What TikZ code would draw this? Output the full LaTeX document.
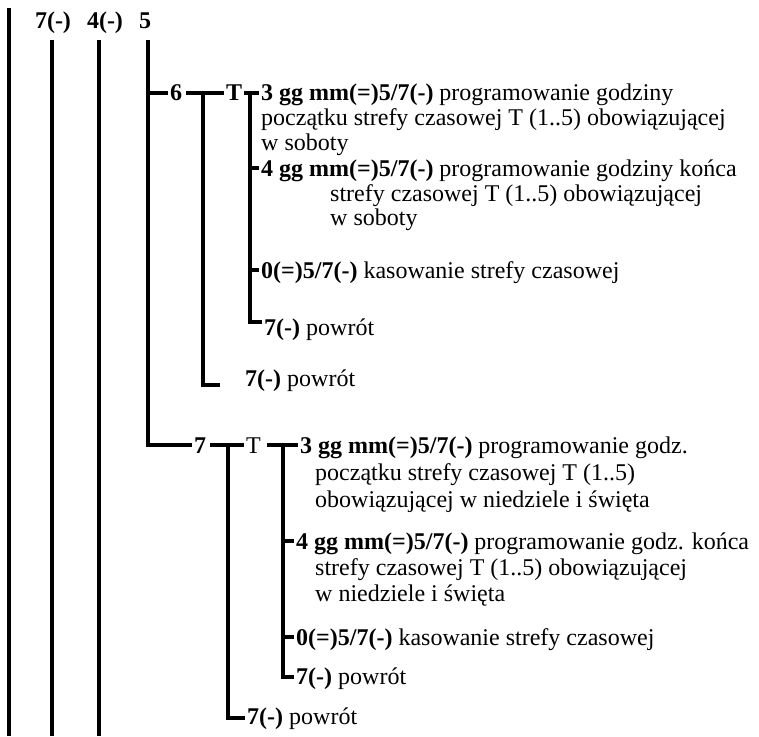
\documentclass[tikz,border=0pt]{standalone}
\usepackage{fontspec}
\setmainfont{Liberation Serif}

\begin{document}
\begin{tikzpicture}[x=1pt,y=-1pt,
    bar/.style={line width=4.6pt},
    lbl/.style={anchor=base west,inner xsep=2pt,inner ysep=0pt,font=\fontsize{24}{25}\selectfont},
    key/.style={lbl,font=\fontsize{24}{25}\selectfont\bfseries}]
    \useasboundingbox (0,0) rectangle (759,736);

    % main keys
    \node[key,anchor=base] (k7) at (53,28) {7(-)};
    \node[key,anchor=base] (k4) at (105,28) {4(-)};
    \node[key,anchor=base] (k5) at (145,28) {5};
    \draw[bar] (9,8) -- (9,736);
    \draw[bar] (52,40) -- (52,736);
    \draw[bar] (99,40) -- (99,736);

    % branch 6 (soboty)
    \node[key] (b6) at (168,100) {6};
    \node[key] (b6t) at (224,100) {T};
    \node[lbl] (b6a) at (259,100) {\textbf{3 gg mm(=)5/7(-)} programowanie godziny};
    \node[lbl] (b6a2) at (259,125) {początku strefy czasowej T (1..5) obowiązującej};
    \node[lbl] (b6a3) at (259,150) {w soboty};
    \node[lbl] (b6b) at (259,176) {\textbf{4 gg mm(=)5/7(-)} programowanie godziny końca};
    \node[lbl] (b6b2) at (328,201) {strefy czasowej T (1..5) obowiązującej};
    \node[lbl] (b6b3) at (328,225) {w soboty};
    \node[lbl] (b6c) at (259,278) {\textbf{0(=)5/7(-)} kasowanie strefy czasowej};
    \node[lbl] (b6d) at (262,335) {\textbf{7(-)} powrót};
    \node[lbl] (b6r) at (243,386) {\textbf{7(-)} powrót};

    \coordinate (j6) at (148,93);
    \coordinate (s6) at (203,93);
    \coordinate (t6) at (250,93);
    \draw[bar] (j6) -- (j6 -| b6.west);
    \draw[bar] ([xshift=2pt]b6.east |- s6) -- (b6t.west |- s6);
    \draw[bar] (s6) -- (203,385) -- (220,385);
    \draw[bar] (b6t.east |- t6) -- (t6 -| b6a.west);
    \draw[bar] (t6) -- (250,322) -- (b6d.west |- 0,322);
    \draw[bar] (250,168) -- (b6b.west |- 0,168);
    \draw[bar] (250,270) -- (b6c.west |- 0,270);

    % branch 7 (niedziele i swieta)
    \node[key] (b7) at (192,453) {7};
    \node[lbl] (b7t) at (244,453) {T};
    \node[lbl] (b7a) at (298,453) {\textbf{3 gg mm(=)5/7(-)} programowanie godz.};
    \node[lbl] (b7a2) at (313,480) {początku strefy czasowej T (1..5)};
    \node[lbl] (b7a3) at (313,507) {obowiązującej w niedziele i święta};
    \node[lbl] (b7b) at (294,549) {\textbf{4 gg mm(=)5/7(-)} programowanie godz. końca};
    \node[lbl] (b7b2) at (313,575) {strefy czasowej T (1..5) obowiązującej};
    \node[lbl] (b7b3) at (313,601) {w niedziele i święta};
    \node[lbl] (b7c) at (294,645) {\textbf{0(=)5/7(-)} kasowanie strefy czasowej};
    \node[lbl] (b7d) at (294,684) {\textbf{7(-)} powrót};
    \node[lbl] (b7r) at (245,724) {\textbf{7(-)} powrót};

    \coordinate (j7) at (148,445);
    \coordinate (s7) at (228,445);
    \coordinate (t7) at (283,445);
    \draw[bar] (148,40) -- (j7) -- (j7 -| b7.west);
    \draw[bar] ([xshift=2pt]b7.east |- s7) -- (b7t.west |- s7);
    \draw[bar] (s7) -- (228,718) -- (b7r.west |- 0,718);
    \draw[bar] ([xshift=4pt]b7t.east |- t7) -- (t7 -| b7a.west);
    \draw[bar] (t7) -- (283,677) -- (b7d.west |- 0,677);
    \draw[bar] (283,541) -- (b7b.west |- 0,541);
    \draw[bar] (283,637) -- (b7c.west |- 0,637);
\end{tikzpicture}
\end{document}
